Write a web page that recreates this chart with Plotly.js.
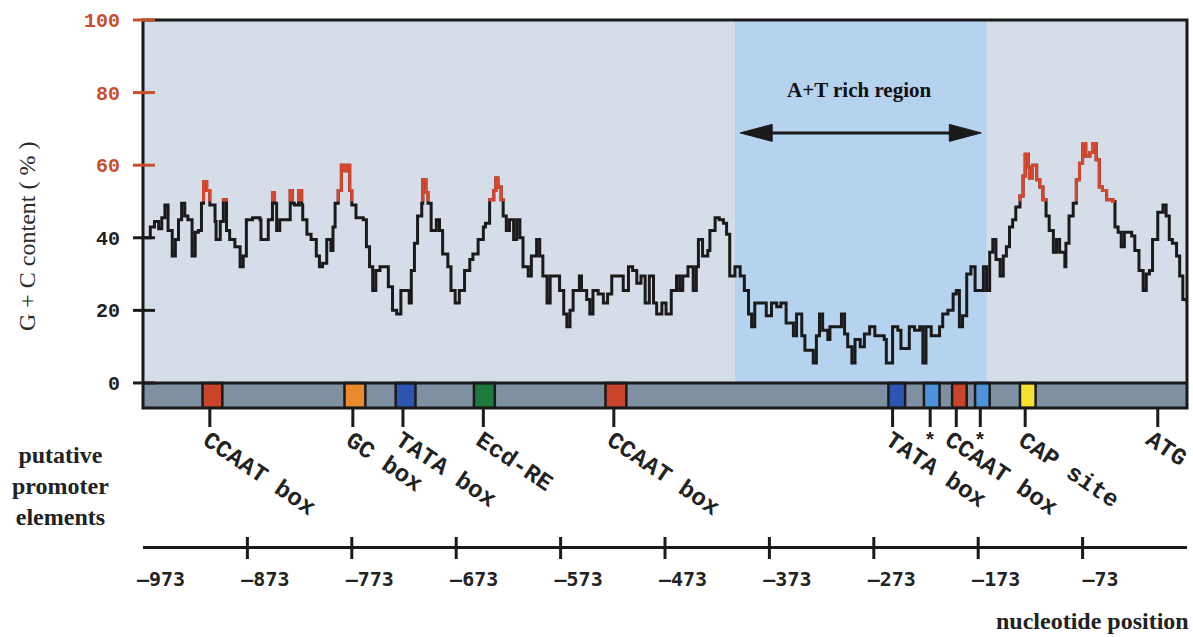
<!DOCTYPE html>
<html><head><meta charset="utf-8">
<script src="https://cdn.plot.ly/plotly-3.0.1.min.js"></script>
<style>html,body{margin:0;padding:0;background:#fff}#chart{width:1193px;height:637px}</style>
</head><body><div id="chart"></div>
<script>
// ---------------- DATA ----------------
const position = [
-973,-966,-962,-958,-955,-952,-949,-945,-942,-939,-936,-933,-930,-926,-923,-920,-917,-915,-912,-909,
-904,-903,-899,-896,-893,-890,-885,-880,-877,-874,-868,-861,-860,-856,-853,-849,-847,-845,-842,-837,
-832,-830,-828,-824,-821,-820,-816,-812,-807,-804,-801,-797,-793,-791,-789,-786,-783,-780,-778,-775,
-773,-769,-762,-759,-756,-753,-750,-746,-742,-738,-734,-730,-726,-721,-718,-716,-713,-710,-706,-705,
-702,-700,-697,-692,-689,-686,-681,-678,-674,-670,-665,-660,-657,-652,-647,-645,-641,-637,-635,-633,
-630,-628,-625,-622,-618,-615,-612,-609,-604,-601,-596,-593,-590,-586,-583,-577,-574,-570,-567,-564,
-561,-555,-553,-548,-545,-542,-537,-532,-528,-524,-519,-513,-508,-504,-500,-496,-492,-488,-484,-481,
-476,-472,-467,-462,-459,-456,-451,-446,-443,-441,-437,-432,-430,-425,-421,-417,-414,-411,-406,-401,
-397,-393,-390,-387,-381,-376,-371,-366,-362,-357,-350,-347,-342,-339,-334,-331,-328,-325,-322,-317,
-315,-309,-304,-301,-298,-294,-291,-286,-282,-277,-272,-267,-263,-261,-258,-255,-250,-247,-242,-239,
-234,-229,-226,-223,-218,-213,-210,-207,-202,-197,-194,-191,-188,-184,-180,-176,-172,-168,-165,-162,
-159,-156,-152,-149,-146,-143,-140,-137,-133,-130,-128,-125,-124,-121,-117,-114,-111,-108,-105,-101,
-98,-95,-90,-89,-86,-82,-79,-76,-73,-70,-66,-63,-60,-57,-54,-50,-44,-42,-39,-36,
-33,-30,-26,-23,-19,-15,-12,-9,-6,-1,4,7,10,13,17,20,23,27
];
const gcContent = [
40,43,44.5,42.5,45.5,49,42,35,39.5,45,49.5,46,45,35,41.5,42,49.5,55.5,53,49,
44.5,39.5,44.5,50.5,42,39.5,37.5,32,35,45,45.5,45,39.5,39.5,45,52.5,49.5,42,45,45,
53,49.5,49,53,49,45,41,39.5,35,32,33,39.5,36.5,43,49.5,53,60,58.5,60,53,
49,45.5,45,37.5,32,25.5,31,32,32,26.5,20,19,25.5,25.5,22,31,38.5,46,49.5,56,
52.5,49.5,42,45,42,35.5,32,25.5,22,25.5,31,34,35.5,39.5,43,44,50.5,53,56.5,54,
50.5,46,42,45,39.5,45,40,32,29.5,35,39.5,35,29.5,22,29.5,29.5,25.5,19,15.5,20,
25.5,29.5,25.5,23,19,25.5,24.5,22,24.5,29.5,29.5,25.5,32,31,27.5,29.5,22,29.5,22,19,
22,19,25.5,29.5,25.5,29.5,32,25.5,32,39.5,35,36.5,42,45.5,45,44,41,29.5,32,29.5,
25.5,19,15.5,22,22,18.5,22,21,22,16.5,13,19,13,9,9,5.5,13,19,14.5,12,
15.5,15.5,19,13.5,10,5.5,12,10,13.5,15.5,13,13,12,5.5,5.5,15.5,14.5,9.5,9.5,15.5,
14.5,15.5,5.5,15.5,13,13,15.5,19,20,24.5,25.5,15.5,18.5,30,32,25.5,25.5,32,25.5,36,
39.5,34,29.5,35,37.5,43,45,48.5,51.5,57,63,59.5,56.5,60,56,54,50.5,46,42,36,
39.5,36,32,38.5,46,49.5,56,60.5,66,62.5,63.5,66,61.5,54,53,50.5,50,43,41.5,37.5,
41.5,41.5,40.5,36.5,31,25.5,30,31,39.5,47,49,46,39.5,38.5,35,29.5,23,22
];
const atRichRegion = [-406, -165];

// promoter element boxes on the bar
const boxStart = [-916, -780, -731, -656, -530, -259, -225, -198, -176, -133];
const boxEnd   = [-897, -760, -712, -636, -510, -243, -210, -184, -162, -118];
const boxType  = ['CCAAT', 'GC', 'TATA', 'Ecd-RE', 'CCAAT', 'TATA', 'unnamed', 'CCAAT', 'unnamed', 'CAP'];

// element tick labels
const elementLabel = ['CCAAT box', 'GC box', 'TATA box', 'Ecd-RE', 'CCAAT box', 'TATA box', '*', 'CCAAT box', '*', 'CAP site', 'ATG'];
const elementPos   = [-909, -772, -724, -647, -522, -255, -219, -194, -171, -128, -1];

const xTickVals = [-973, -873, -773, -673, -573, -473, -373, -273, -173, -73];
const xTickText = ['\u2013973', '\u2013873', '\u2013773', '\u2013673', '\u2013573', '\u2013473', '\u2013373', '\u2013273', '\u2013173', '\u201373'];
const yTickVals = [0, 20, 40, 60, 80, 100];
const yTickText = ['0', '20', '40', '60', '80', '100'];

const highGCThreshold = 50;

// ---------------- STYLE ----------------
const boxColors = {CCAAT: '#c9442b', GC: '#ea8a2c', TATA: '#2c56b2', 'Ecd-RE': '#1d7a3c', unnamed: '#4c93dc', CAP: '#f3e232'};
const RED = '#d8462b', TICKRED = '#c84f2c', INK = '#1a1a1a';
const Y_MIN = -6.9, Y_MAX = 100;
const PAPER_TOP = 20, PAPER_BOTTOM = 577;
const P = py => (PAPER_BOTTOM - py) / (PAPER_BOTTOM - PAPER_TOP);
const PLOT_W = 1044;
const labelShift = {7: -19, 10: -20};

// step path for the red (above threshold) overlay
const sx = [], sy = [];
for (let i = 0; i < position.length; i++) {
  sx.push(position[i]); sy.push(gcContent[i]);
  if (i < position.length - 1) { sx.push(position[i + 1]); sy.push(gcContent[i]); }
}
const rx = [], ry = [];
for (let k = 0; k < sx.length - 1; k++) {
  let ax = sx[k], ay = sy[k], bx = sx[k + 1], by = sy[k + 1];
  if (ay < highGCThreshold && by < highGCThreshold) continue;
  if (ay < highGCThreshold) ay = highGCThreshold;
  if (by < highGCThreshold) by = highGCThreshold;
  const n = rx.length;
  if (n && (rx[n - 1] === null || rx[n - 1] !== ax || ry[n - 1] !== ay)) {
    if (rx[n - 1] !== null) { rx.push(null); ry.push(null); }
    rx.push(ax); ry.push(ay);
  } else if (!n) { rx.push(ax); ry.push(ay); }
  rx.push(bx); ry.push(by);
}

const traces = [
  {x: position, y: gcContent, type: 'scatter', mode: 'lines', line: {shape: 'hv', color: INK, width: 3}, hoverinfo: 'skip'},
  {x: rx, y: ry, type: 'scatter', mode: 'lines', line: {color: RED, width: 3}, connectgaps: false, hoverinfo: 'skip'}
];

const shapes = [];
// A+T rich region background
shapes.push({type: 'rect', layer: 'below', xref: 'x', yref: 'y', x0: atRichRegion[0], x1: atRichRegion[1], y0: 0, y1: Y_MAX, fillcolor: '#b5d3ef', line: {width: 0}});
// promoter bar background
shapes.push({type: 'rect', layer: 'below', xref: 'x domain', yref: 'y', x0: 0, x1: 1, y0: Y_MIN, y1: 0, fillcolor: '#7e90a2', line: {width: 0}});
// element boxes
for (let i = 0; i < boxStart.length; i++) {
  shapes.push({type: 'rect', layer: 'above', xref: 'x', yref: 'y', x0: boxStart[i], x1: boxEnd[i], y0: Y_MIN, y1: 0, fillcolor: boxColors[boxType[i]], line: {color: INK, width: 2.5}});
}
// separator and frame
shapes.push({type: 'line', layer: 'above', xref: 'x domain', yref: 'y', x0: 0, x1: 1, y0: 0, y1: 0, line: {color: INK, width: 3}});
shapes.push({type: 'rect', layer: 'above', xref: 'x domain', yref: 'y domain', x0: 0, x1: 1, y0: 0, y1: 1, line: {color: INK, width: 3}});
// element ticks under bar
for (let i = 0; i < elementPos.length; i++) {
  shapes.push({type: 'line', layer: 'above', xref: 'x', yref: 'paper', x0: elementPos[i], x1: elementPos[i], y0: P(408), y1: P(427), line: {color: INK, width: 3}});
}
// y ticks crossing the axis
for (const v of yTickVals) {
  const f = (v - Y_MIN) / (Y_MAX - Y_MIN);
  shapes.push({type: 'line', layer: 'above', xref: 'paper', yref: 'y domain', x0: -10 / PLOT_W, x1: 12 / PLOT_W, y0: f, y1: f, line: {color: v >= 60 ? TICKRED : INK, width: 3}});
}
// x ticks of the bottom scale
for (const v of xTickVals.slice(1)) {
  shapes.push({type: 'line', layer: 'above', xref: 'x', yref: 'paper', x0: v, x1: v, y0: P(537), y1: P(559), line: {color: INK, width: 3}});
}
// double arrow for A+T region
const arrowY = 68.9, arrL = atRichRegion[0] + 5, arrR = atRichRegion[1] - 5;
shapes.push({type: 'line', layer: 'above', xref: 'x', yref: 'y', x0: arrL + 20, x1: arrR - 20, y0: arrowY, y1: arrowY, line: {color: INK, width: 3}});
shapes.push({type: 'path', layer: 'above', xref: 'x', yref: 'y', xsizemode: 'pixel', ysizemode: 'pixel', xanchor: arrL, yanchor: arrowY, path: 'M0,0L32,8.5L32,-8.5Z', fillcolor: INK, line: {color: INK, width: 1}});
shapes.push({type: 'path', layer: 'above', xref: 'x', yref: 'y', xsizemode: 'pixel', ysizemode: 'pixel', xanchor: arrR, yanchor: arrowY, path: 'M0,0L-32,8.5L-32,-8.5Z', fillcolor: INK, line: {color: INK, width: 1}});

const annotations = [];
for (let i = 0; i < elementLabel.length; i++) {
  if (elementLabel[i] === '*') {
    annotations.push({text: '*', xref: 'x', yref: 'paper', x: elementPos[i], y: P(441), xanchor: 'center', yanchor: 'middle', showarrow: false,
      font: {family: 'Liberation Mono', size: 20, weight: 'bold', color: '#222'}});
  } else {
    annotations.push({text: elementLabel[i], xref: 'x', yref: 'paper', x: elementPos[i], y: P(424), xanchor: 'left', yanchor: 'top', xshift: (labelShift[i] !== undefined ? labelShift[i] : -15),
      textangle: 34, showarrow: false, font: {family: 'Liberation Mono', size: 24, weight: 'bold', color: '#222'}});
  }
}
annotations.push({text: 'putative<br>promoter<br>elements', xref: 'paper', yref: 'paper', x: (60 - 143) / PLOT_W, y: P(486), xanchor: 'center', yanchor: 'middle', align: 'center', showarrow: false,
  font: {family: 'Liberation Serif', size: 24, weight: 'bold', color: '#222'}});
annotations.push({text: 'nucleotide position', xref: 'paper', yref: 'paper', x: (1191 - 143) / PLOT_W, y: P(621), xanchor: 'right', yanchor: 'middle', showarrow: false,
  font: {family: 'Liberation Serif', size: 24, weight: 'bold', color: '#222'}});
annotations.push({text: 'A+T rich region', xref: 'x', yref: 'y', x: (atRichRegion[0] + atRichRegion[1]) / 2 - 1, y: 80.7, xanchor: 'center', yanchor: 'middle', showarrow: false,
  font: {family: 'Liberation Serif', size: 21, weight: 'bold', color: '#111'}});
annotations.push({text: 'G + C content ( % )', xref: 'paper', yref: 'paper', x: (27 - 143) / PLOT_W, y: P(236), xanchor: 'center', yanchor: 'middle', textangle: -90, showarrow: false,
  font: {family: 'Liberation Serif', size: 24, color: '#2a2a2a'}});

const layout = {
  width: 1193, height: 637,
  margin: {l: 143, r: 6, t: PAPER_TOP, b: 637 - PAPER_BOTTOM, pad: 0},
  paper_bgcolor: '#ffffff', plot_bgcolor: '#d5dee8',
  showlegend: false,
  xaxis: {range: [-973, 27], domain: [0, 1], anchor: 'free', position: P(547), showline: true, linecolor: INK, linewidth: 3,
    ticks: '', tickvals: xTickVals, ticktext: xTickText, ticklabelshift: 18, ticklabelstandoff: 13,
    tickfont: {family: 'DejaVu Sans Mono', size: 20, weight: 'bold', color: '#222'}, showgrid: false, zeroline: false, fixedrange: true},
  yaxis: {range: [Y_MIN, Y_MAX], domain: [P(408), 1], anchor: 'x', showline: false, ticks: '',
    tickvals: yTickVals, ticktext: yTickText.map((t, i) => yTickVals[i] >= 60 ? '<span style="color:' + TICKRED + '">' + t + '</span>' : t),
    ticklabelstandoff: 22, tickfont: {family: 'Liberation Mono', size: 20, weight: 'bold', color: '#222'}, showgrid: false, zeroline: false, fixedrange: true},
  shapes: shapes,
  annotations: annotations
};

Plotly.newPlot('chart', traces, layout, {displayModeBar: false, staticPlot: true});
</script>
</body></html>
